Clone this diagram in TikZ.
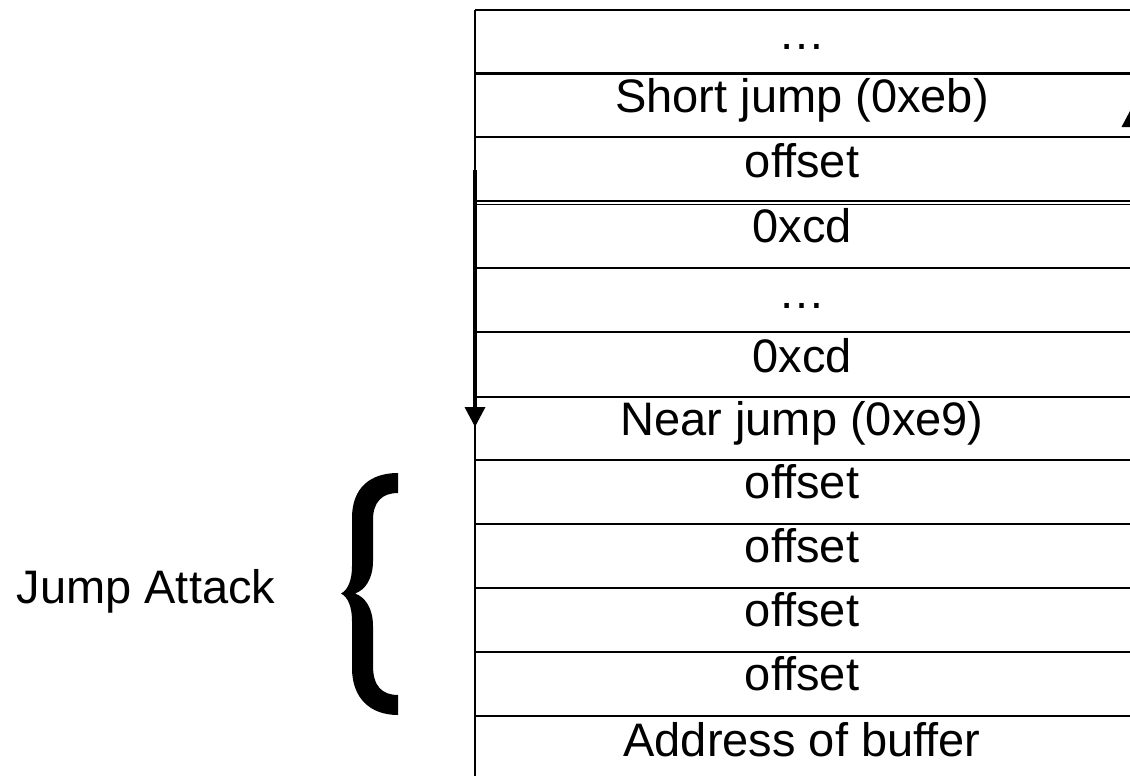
\documentclass[tikz,border=0pt]{standalone}
\usepackage{fontspec}
\setmainfont{Liberation Sans}
\usetikzlibrary{arrows.meta}

\begin{document}
\begin{tikzpicture}[x=1pt,y=-1pt,
  rowline/.style={line width=2.5pt,black},
  cell/.style={anchor=base,inner sep=0pt,font=\fontsize{47}{56}\selectfont},
  jumparrow/.style={line width=3.5pt,-{Triangle[width=20pt,length=20pt]}},
  brace/.style={fill=black,draw=none}]

\useasboundingbox (0,0) rectangle (1130,776);
\clip (0,0) rectangle (1130,776);

% stack of memory cells
\def\tl{475}
\def\tr{1132}
\draw[rowline] (\tl,10) -- (\tr,10);
\foreach \y in {73.5,137,268,332,397,460,524,588,652,716}
  \draw[rowline] (\tl,\y) -- (\tr,\y);
\draw[line width=1.8pt] (\tl,201) -- (\tr,201);
\draw[line width=1.8pt] (\tl,204.5) -- (\tr,204.5);
\draw[rowline] (\tl,10) -- (\tl,790);
\draw[rowline] (\tr,10) -- (\tr,790);

% cell contents (baseline 39 below each row top)
\def\cx{802}
\node[cell] (c1)  at (\cx,50)  {…};
\node[cell] (c2)  at (\cx,112) {Short jump (0xeb)};
\node[cell] (c3)  at (\cx,177) {offset};
\node[cell] (c4)  at (\cx,242) {0xcd};
\node[cell] (c5)  at (\cx,308) {…};
\node[cell] (c6)  at (\cx,372) {0xcd};
\node[cell] (c7)  at (\cx,435) {Near jump (0xe9)};
\node[cell] (c8)  at (\cx,498) {offset};
\node[cell] (c9)  at (\cx,562) {offset};
\node[cell] (c10) at (\cx,626) {offset};
\node[cell] (c11) at (\cx,690) {offset};
\node[cell] (c12) at (\cx,756) {Address of buffer};

% jump arrows
\coordinate (sjfrom) at (\tl,170);
\coordinate (sjto)   at (\tl,427);
\draw[jumparrow] (sjfrom) -- (sjto);
\coordinate (njfrom) at (1132,430);
\coordinate (njto)   at (1132,107);
\draw[jumparrow] (njfrom) -- (njto);

% label and curly brace
\node[cell] (label) at (146,603) {Jump Attack};
\fill[brace] (398,473)
  .. controls (370,473) and (352,488) .. (352,518)
  -- (352,566)
  .. controls (352,580) and (348,590) .. (341,593.5)
  .. controls (348,597) and (352,607) .. (352,621)
  -- (352,668)
  .. controls (352,698) and (370,715) .. (398,715)
  -- (398,695)
  .. controls (382,695) and (373,686) .. (373,666)
  -- (373,626)
  .. controls (373,608) and (365,597) .. (355,593.5)
  .. controls (365,590) and (373,579) .. (373,561)
  -- (373,520)
  .. controls (373,502) and (382,493) .. (398,493)
  -- cycle;
\end{tikzpicture}
\end{document}
